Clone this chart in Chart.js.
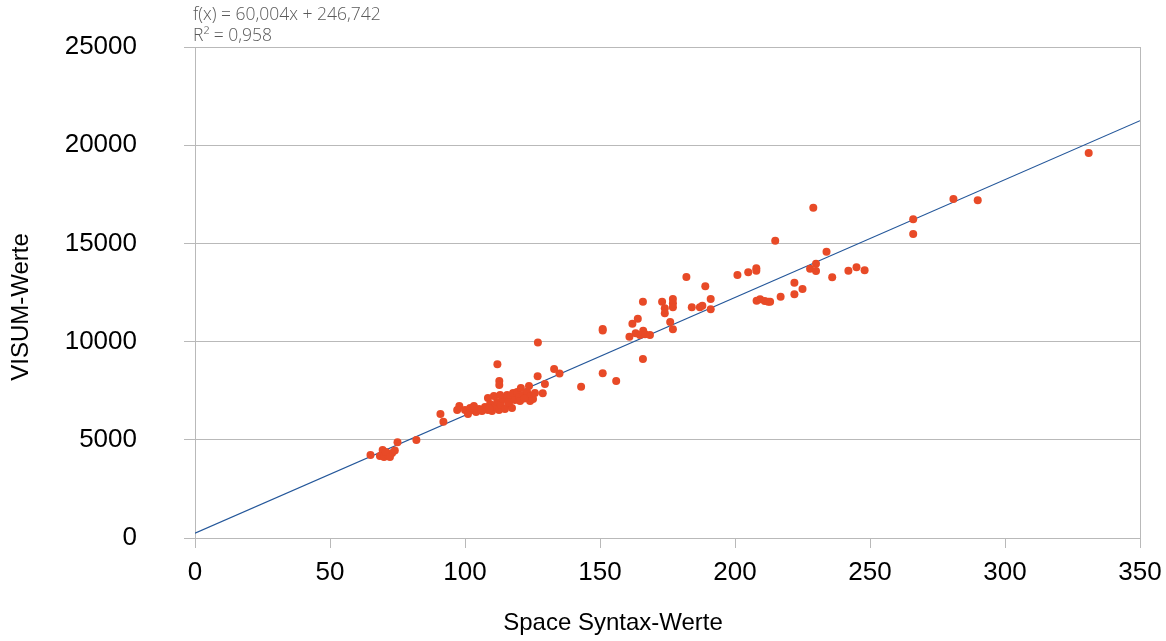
<!DOCTYPE html>
<html>
<head>
<meta charset="utf-8">
<script src="https://cdn.jsdelivr.net/npm/chart.js@4/dist/chart.umd.min.js"></script>
<style>
  html, body { margin: 0; padding: 0; background: #ffffff; }
  #wrap { width: 1166px; height: 641px; position: relative; }
</style>
</head>
<body>
<div id="wrap"><canvas id="c" width="1166" height="641"></canvas></div>
<script>
// ---- data ----
const spaceSyntaxValues = [
  65, 69.5, 68.5, 70, 71.5, 73, 74, 70.7, 72.2, 75, 82,
  90.9, 92, 97.9, 97.1,
  100.0, 101.1, 102.6, 104.1, 105.2, 106.3, 107.4, 108.5, 109.3, 110.0, 111.1, 111.9, 112.6, 113.3,
  114.1, 114.8, 115.6, 116.3, 117.0, 117.8, 118.5, 119.3, 120.0, 120.7, 121.5, 122.2, 123.0, 123.7,
  124.4, 125.2, 125.9, 124.1, 120.4, 117.4, 110.7, 108.5, 113.0, 101.9, 103.3, 106, 109, 122,
  112, 112.7, 112.7, 127, 133, 135, 126.9, 143, 129.6, 128.8, 116,
  151, 151, 151, 156,
  160.9, 162, 164, 163.2, 166, 164.8, 166.7, 168.5, 165.9, 165.9, 173, 174, 174, 177, 177, 177, 176, 177,
  182, 184, 187, 187.9, 189, 191, 191, 200.9, 204.9, 207.9, 207.9, 208, 209.3, 211, 212.3, 213,
  214.9, 216.9, 222, 222, 225, 227.8, 229, 230, 230, 233.9, 236, 242, 245, 248,
  266, 266, 280.9, 289.9, 331
];
const visumValues = [
  4230, 4480, 4175, 4124, 4226, 4328, 4450, 4379, 4124, 4870, 4990,
  6314, 5924, 6721, 6517,
  6517, 6314, 6517, 6415, 6568, 6466, 6670, 6517, 6823, 6466, 6670, 6925, 6517, 6772,
  7077, 6568, 7281, 6823, 7179, 7383, 7026, 7434, 7179, 7637, 7281, 7128, 7434, 7739,
  7230, 7077, 7383, 6975, 6975, 6619, 7230, 7128, 7281, 6619, 6721, 6500, 6600, 7100,
  8850, 7994, 7790, 9950, 8600, 8370, 8230, 7705, 7840, 7365, 6910,
  10640, 10560, 8386, 7990,
  10250, 10912, 11168, 10420, 10555, 10336, 10371, 10336, 9114, 12032, 12032, 11695, 11440, 12170, 11950, 11745, 10998, 10626,
  13289, 11745, 11745, 11830, 12815, 12170, 11643, 13391, 13527, 13730, 13610, 12083, 12152, 12067, 12032, 12032,
  15137, 12286, 13000, 12410, 12678, 13713, 16818, 13968, 13595, 14578, 13272, 13612, 13782, 13629,
  16227, 15479, 17260, 17194, 19603
];
// trend line endpoints (from the equation shown on the chart)
const trendX = [0, 350];
const trendY = [246.742, 21248.1];
const xTickLabels = ['0', '50', '100', '150', '200', '250', '300', '350'];
const yTickLabels = ['0', '5000', '10000', '15000', '20000', '25000'];
const xAxisTitle = 'Space Syntax-Werte';
const yAxisTitle = 'VISUM-Werte';
const equationLines = ['f(x) = 60,004x + 246,742', 'R\u00B2 = 0,958'];

// ---- build datasets ----
const scatterPoints = spaceSyntaxValues.map((x, i) => ({ x: x, y: visumValues[i] }));
const trendPoints = trendX.map((x, i) => ({ x: x, y: trendY[i] }));

const GRID = '#b9b9b9';

const overlayText = {
  id: 'overlayText',
  afterDraw(chart) {
    const ctx = chart.ctx;
    const area = chart.chartArea;
    ctx.save();
    // equation
    ctx.fillStyle = '#5a5a5a';
    ctx.font = '300 17.5px "Open Sans", "Liberation Sans", sans-serif';
    ctx.textAlign = 'left';
    ctx.textBaseline = 'middle';
    ctx.fillText(equationLines[0], area.left - 2, 15);
    ctx.fillText(equationLines[1], area.left - 2, 36);
    // axis titles
    ctx.fillStyle = '#000000';
    ctx.font = '24px "Liberation Sans", Arial, sans-serif';
    ctx.textAlign = 'center';
    ctx.textBaseline = 'middle';
    ctx.fillText(xAxisTitle, 613, 623);
    ctx.translate(21, 307);
    ctx.rotate(-Math.PI / 2);
    ctx.fillText(yAxisTitle, 0, 0);
    ctx.restore();
  }
};

new Chart(document.getElementById('c'), {
  type: 'scatter',
  data: {
    datasets: [
      {
        type: 'line',
        label: 'Trend',
        data: trendPoints,
        borderColor: '#24579a',
        borderWidth: 1.2,
        pointRadius: 0,
        fill: false,
        order: 2
      },
      {
        label: 'Werte',
        data: scatterPoints,
        backgroundColor: '#e84a27',
        borderColor: '#e84a27',
        borderWidth: 0,
        pointRadius: 4,
        order: 1
      }
    ]
  },
  options: {
    responsive: false,
    animation: false,
    devicePixelRatio: 1,
    layout: { padding: { top: 47, right: 26, left: 0, bottom: 0 } },
    plugins: {
      legend: { display: false },
      tooltip: { enabled: false },
      title: { display: false }
    },
    scales: {
      x: {
        type: 'linear',
        min: 0,
        max: 350,
        afterFit(scale) {
          scale.height = 103;
          scale.paddingLeft = 0; scale.paddingRight = 0;
          scale.paddingTop = 0; scale.paddingBottom = 0;
        },
        ticks: {
          stepSize: 50,
          padding: 9,
          color: '#000000',
          font: { family: '"Liberation Sans", Arial, sans-serif', size: 26 },
          maxRotation: 0,
          callback: (v, i) => xTickLabels[i]
        },
        grid: {
          drawTicks: true,
          tickLength: 10,
          tickColor: GRID,
          color: (c) => (c.tick && c.tick.value === 350) ? GRID : 'rgba(0,0,0,0)',
          lineWidth: 1
        },
        border: { display: true, color: GRID, width: 1 }
      },
      y: {
        type: 'linear',
        min: 0,
        max: 25000,
        afterFit(scale) {
          scale.width = 195;
          scale.paddingLeft = 0; scale.paddingRight = 0;
          scale.paddingTop = 0; scale.paddingBottom = 0;
        },
        ticks: {
          stepSize: 5000,
          padding: 47,
          color: '#000000',
          font: { family: '"Liberation Sans", Arial, sans-serif', size: 26 },
          callback: (v, i) => yTickLabels[i]
        },
        grid: {
          drawTicks: true,
          tickLength: 11,
          tickColor: GRID,
          color: GRID,
          lineWidth: 1
        },
        border: { display: true, color: GRID, width: 1 }
      }
    }
  },
  plugins: [overlayText]
});
</script>
</body>
</html>
